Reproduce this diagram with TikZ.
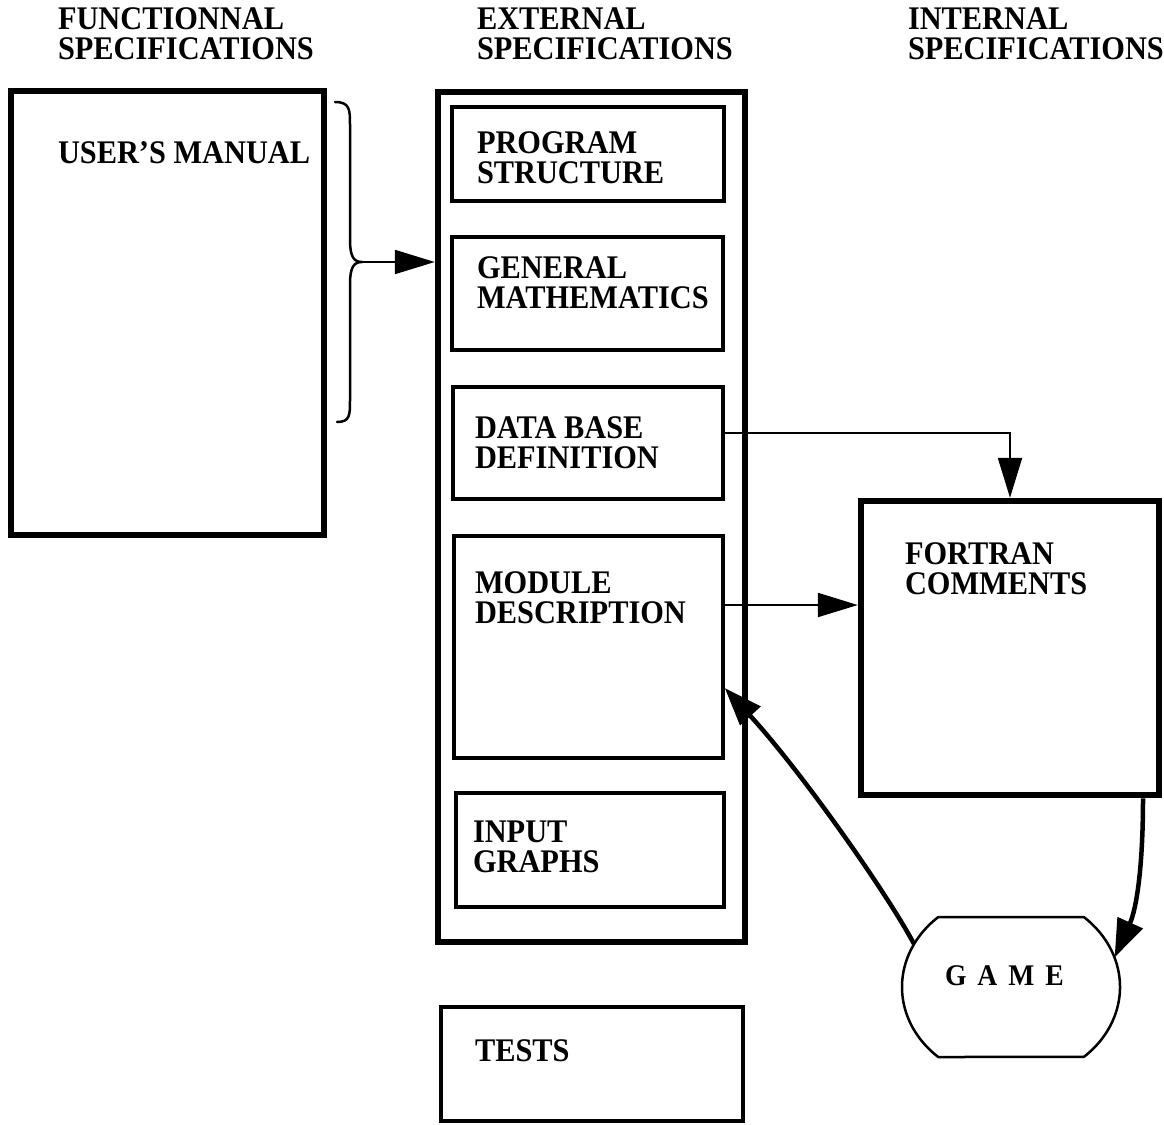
\documentclass[tikz,border=0pt]{standalone}
\usepackage{fontspec}
\setmainfont{Liberation Serif}[FakeStretch=0.92]
\usetikzlibrary{arrows.meta,shapes.geometric,fit}
\begin{document}
\begin{tikzpicture}[x=1pt,y=-1pt,
  lbl/.style={anchor=north west, inner sep=0pt, outer sep=0pt, align=left,
    font=\fontsize{33}{30}\selectfont\bfseries},
  thickbox/.style={draw, line width=6.5pt, inner sep=0pt},
  thinbox/.style={draw, line width=3.5pt, inner sep=0pt},
  smalltip/.style={line width=2.2pt, -{Triangle[length=40pt,width=24pt]}},
  bigtip/.style={line width=4.5pt, -{Triangle[length=38pt,width=27pt]}},
  bracestyle/.style={line width=2.5pt, line cap=round, line join=round}]
\useasboundingbox (0,0) rectangle (1164,1124);

% headers
\node[lbl] (h1) at (58,8) {FUNCTIONNAL\\SPECIFICATIONS};
\node[lbl] (h2) at (477,8) {EXTERNAL\\SPECIFICATIONS};
\node[lbl] (h3) at (908,8) {INTERNAL\\SPECIFICATIONS};

% user's manual
\node[thickbox, fit={(11,91) (324,535)}] (um) {};
\node[lbl] (umt) at (58,142) {USER'S MANUAL};

% external spec column
\node[thickbox, fit={(438,92) (745,942)}] (col) {};
\node[thinbox, fit={(452,107) (724,201)}] (ps) {};
\node[thinbox, fit={(452,237) (723,350)}] (gm) {};
\node[thinbox, fit={(453,387) (723,499)}] (db) {};
\node[thinbox, fit={(454,536) (723,758)}] (md) {};
\node[thinbox, fit={(456,793) (724,907)}] (ig) {};
\node[lbl] (pst) at (477,132) {PROGRAM\\STRUCTURE};
\node[lbl] (gmt) at (477,257) {GENERAL\\MATHEMATICS};
\node[lbl] (dbt) at (475,417) {DATA BASE\\DEFINITION};
\node[lbl] (mdt) at (475,572) {MODULE\\DESCRIPTION};
\node[lbl] (igt) at (473,821) {INPUT\\GRAPHS};

% tests
\node[thinbox, fit={(441,1007) (743,1121)}] (tests) {};
\node[lbl] (tt) at (475,1040) {TESTS};

% fortran
\node[thickbox, fit={(861,501) (1159,795)}] (fortran) {};
\node[lbl] (ftt) at (905,543) {FORTRAN\\COMMENTS};

% game
\node[ellipse, minimum width=218pt, minimum height=188pt, inner sep=0pt] (game) at (1011,987) {};
\draw[line width=2.5pt, line join=round] (1083.8,917)
  arc[start angle=-48.1, end angle=48.1, x radius=109, y radius=94]
  -- (938.2,1057)
  arc[start angle=131.9, end angle=228.1, x radius=109, y radius=94]
  -- cycle;
\node[lbl, font=\fontsize{30}{30}\selectfont\bfseries] (gt) at (945,966)
  {G\hspace{11pt}A\hspace{11pt}M\hspace{11pt}E};

% brace
\draw[bracestyle] (335,102) .. controls (350,102) and (350,110) .. (350,125)
  -- (350,240) .. controls (350,257) and (354,262) .. (362,262)
  .. controls (354,262) and (350,267) .. (350,284)
  -- (350,400) .. controls (350,415) and (350,422) .. (337,422);
\coordinate (bt) at (362,262);
\draw[smalltip] (bt) -- (bt -| col.west);

% connectors
\coordinate (dbo) at ([yshift=10pt]db.east);
\draw[smalltip] (dbo) -| (fortran.north);
\coordinate (mdo) at ([yshift=42pt]md.east);
\draw[smalltip] (mdo) -- (mdo -| fortran.west);
\coordinate (fo) at ([xshift=133pt]fortran.south);
\draw[bigtip] (fo) .. controls (1143,870) and (1136,910) .. (game.16);
\coordinate (mdi) at ([yshift=-41pt]md.east);
\draw[bigtip] (game.156) .. controls (885,890) and (800,770) .. (mdi);
\end{tikzpicture}
\end{document}
